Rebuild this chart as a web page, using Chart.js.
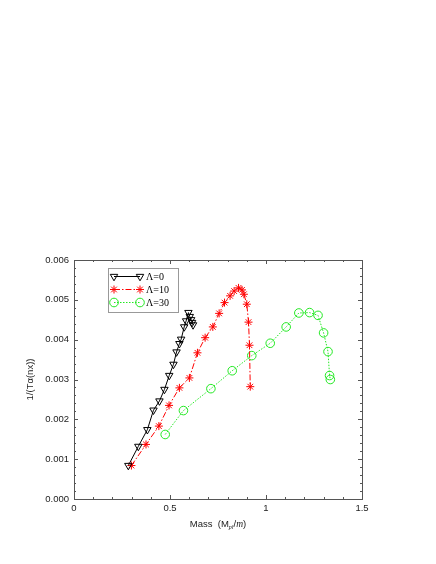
<!DOCTYPE html>
<html>
<head>
<meta charset="utf-8">
<script src="https://cdn.jsdelivr.net/npm/chart.js@4"></script>
<style>
html,body{margin:0;padding:0;background:#fff;}
#wrap{width:436px;height:564px;position:relative;}
</style>
</head>
<body>
<div id="wrap"><canvas id="c" width="436" height="564"></canvas></div>
<script>
// Data
const massL0 = [0.283,0.335,0.382,0.414,0.445,0.471,0.496,0.518,0.534,0.549,0.558,0.574,0.584,0.596,0.603,0.610,0.615,0.620];
const invTL0 = [0.00084,0.00132,0.00174,0.00223,0.00246,0.00275,0.00310,0.00338,0.00369,0.00390,0.00401,0.00432,0.00447,0.00468,0.00458,0.00450,0.00443,0.00437];

const massL10 = [0.299,0.375,0.442,0.495,0.549,0.601,0.643,0.683,0.723,0.756,0.784,0.813,0.834,0.857,0.875,0.885,0.900,0.909,0.914,0.918];
const invTL10 = [0.00084,0.00137,0.00183,0.00235,0.00279,0.00304,0.00367,0.00405,0.00432,0.00466,0.00493,0.00510,0.00522,0.00530,0.00525,0.00514,0.00489,0.00444,0.00386,0.00282];

const massL30 = [0.475,0.570,0.713,0.824,0.926,1.022,1.105,1.171,1.227,1.271,1.300,1.323,1.331,1.335];
const invTL30 = [0.00162,0.00222,0.00277,0.00322,0.00360,0.00391,0.00432,0.00467,0.00468,0.00461,0.00417,0.00370,0.00310,0.00300];

const seriesLabels = ['\u039B=0','\u039B=10','\u039B=30'];
const xTicks = [0,0.5,1,1.5];
const yTicks = [0,0.001,0.002,0.003,0.004,0.005,0.006];

function pts(xs, ys){ return xs.map((x,i)=>({x:x,y:ys[i]})); }

const styles = [
  {color:'#000000', pointStyle:'triangle', rotation:180, radius:4.3, dash:[]},
  {color:'#ff0000', pointStyle:'star', rotation:0, radius:4, dash:[6,2,1.5,2]},
  {color:'#22e822', pointStyle:'circle', rotation:0, radius:4.3, dash:[1.5,1.5]}
];

const allData = [pts(massL0,invTL0), pts(massL10,invTL10), pts(massL30,invTL30)];

const datasets = allData.map((d,i)=>({
  label: seriesLabels[i],
  data: d,
  showLine: true,
  borderColor: styles[i].color,
  backgroundColor: 'rgba(0,0,0,0)',
  borderWidth: 1,
  borderDash: styles[i].dash,
  pointStyle: styles[i].pointStyle,
  pointRotation: styles[i].rotation,
  pointRadius: styles[i].radius,
  pointBorderColor: styles[i].color,
  pointBorderWidth: 1,
  pointBackgroundColor: 'rgba(0,0,0,0)',
  tension: 0
}));

function drawMarker(ctx, st, x, y){
  ctx.save();
  ctx.setLineDash([]);
  ctx.strokeStyle = st.color;
  ctx.fillStyle = 'rgba(0,0,0,0)';
  ctx.lineWidth = 1;
  Chart.helpers.drawPoint(ctx, {pointStyle: st.pointStyle, rotation: st.rotation, radius: st.radius, borderWidth:1}, x, y);
  ctx.restore();
}

const framePlugin = {
  id: 'frame',
  afterDraw(chart){
    const ctx = chart.ctx;
    const a = chart.chartArea;
    const xs = chart.scales.x, ys = chart.scales.y;
    ctx.save();
    ctx.strokeStyle = '#555';
    ctx.lineWidth = 1;
    ctx.setLineDash([]);
    ctx.strokeRect(Math.round(a.left)+0.5, Math.round(a.top)+0.5, Math.round(a.right-a.left), Math.round(a.bottom-a.top));
    // x ticks
    for (let k = 0; k <= 15; k++) {
      const v = k*0.1;
      const px = Math.round(xs.getPixelForValue(v))+0.5;
      const major = k % 5 === 0;
      const len = major ? 4 : 2;
      ctx.beginPath();
      ctx.moveTo(px, a.bottom); ctx.lineTo(px, a.bottom-len);
      ctx.moveTo(px, a.top); ctx.lineTo(px, a.top+len);
      ctx.stroke();
    }
    for (let k = 0; k <= 30; k++) {
      const v = k*0.0002;
      const py = Math.round(ys.getPixelForValue(v))+0.5;
      const major = k % 5 === 0;
      const len = major ? 4 : 2;
      ctx.beginPath();
      ctx.moveTo(a.left, py); ctx.lineTo(a.left+len, py);
      ctx.moveTo(a.right, py); ctx.lineTo(a.right-len, py);
      ctx.stroke();
    }
    // axis titles
    ctx.fillStyle = '#222';
    ctx.font = '9.5px "Liberation Sans", Arial, sans-serif';
    ctx.textBaseline = 'alphabetic';
    const cx = (a.left + a.right)/2;
    const ty = 527;
    const p1 = 'Mass  (M';
    const w1 = ctx.measureText(p1).width;
    ctx.font = 'italic 6px "Liberation Serif", serif';
    const sub = 'pl';
    const w2 = ctx.measureText(sub).width;
    ctx.font = '9.5px "Liberation Sans", Arial, sans-serif';
    const w3 = ctx.measureText('/').width;
    ctx.font = 'italic 9.5px "Liberation Serif", serif';
    const w4 = ctx.measureText('m').width;
    ctx.font = '9.5px "Liberation Sans", Arial, sans-serif';
    const w5 = ctx.measureText(')').width;
    let sx = cx - (w1+w2+w3+w4+w5)/2;
    ctx.textAlign = 'left';
    ctx.fillText(p1, sx, ty); sx += w1;
    ctx.font = 'italic 6px "Liberation Serif", serif';
    ctx.fillText(sub, sx, ty+2); sx += w2;
    ctx.font = '9.5px "Liberation Sans", Arial, sans-serif';
    ctx.fillText('/', sx, ty); sx += w3;
    ctx.font = 'italic 9.5px "Liberation Serif", serif';
    ctx.fillText('m', sx, ty); sx += w4;
    ctx.font = '9.5px "Liberation Sans", Arial, sans-serif';
    ctx.fillText(')', sx, ty);
    // y title
    ctx.save();
    ctx.translate(33, (a.top+a.bottom)/2);
    ctx.rotate(-Math.PI/2);
    ctx.textAlign = 'center';
    ctx.font = '9.5px "Liberation Sans", Arial, sans-serif';
    ctx.fillText('1/(T\u03B1(nx))', 0, 0);
    ctx.restore();
    // legend
    const lx = 108.5, ly = 268.5, lw = 70, lh = 44;
    ctx.fillStyle = '#fff';
    ctx.fillRect(lx, ly, lw, lh);
    ctx.strokeStyle = '#999';
    ctx.strokeRect(lx, ly, lw, lh);
    const rows = [276.5, 289.5, 302.5];
    for (let i = 0; i < 3; i++) {
      const st = styles[i];
      ctx.strokeStyle = st.color;
      ctx.lineWidth = 1;
      ctx.setLineDash(st.dash);
      ctx.beginPath();
      ctx.moveTo(114, rows[i]); ctx.lineTo(140, rows[i]);
      ctx.stroke();
      ctx.setLineDash([]);
      drawMarker(ctx, st, 114, rows[i]);
      drawMarker(ctx, st, 140, rows[i]);
      ctx.fillStyle = '#000';
      ctx.font = '10px "Liberation Serif", serif';
      ctx.textAlign = 'left';
      ctx.textBaseline = 'middle';
      ctx.fillText(seriesLabels[i], 146, rows[i]+0.5);
    }
    ctx.restore();
  }
};

new Chart(document.getElementById('c'), {
  type: 'scatter',
  data: { datasets: datasets },
  options: {
    responsive: false,
    animation: false,
    layout: { padding: { left: 0, top: 260, right: 74, bottom: 25 } },
    plugins: { legend: { display: false }, tooltip: { enabled: false } },
    scales: {
      x: {
        type: 'linear', min: 0, max: 1.5,
        afterBuildTicks(s){ s.ticks = xTicks.map(v=>({value:v})); },
        afterFit(s){ s.height = 40; },
        grid: { display: false, drawTicks: false },
        border: { display: false },
        ticks: { color:'#222', padding: 4, font: { family: '"Liberation Sans", Arial, sans-serif', size: 9.5 },
                 callback: v => String(v), maxRotation: 0 }
      },
      y: {
        type: 'linear', min: 0, max: 0.006,
        afterBuildTicks(s){ s.ticks = yTicks.map(v=>({value:v})); },
        afterFit(s){ s.width = 74; },
        grid: { display: false, drawTicks: false },
        border: { display: false },
        ticks: { color:'#222', padding: 5, font: { family: '"Liberation Sans", Arial, sans-serif', size: 9.5 },
                 callback: v => Number(v).toFixed(3) }
      }
    }
  },
  plugins: [framePlugin]
});
</script>
</body>
</html>
